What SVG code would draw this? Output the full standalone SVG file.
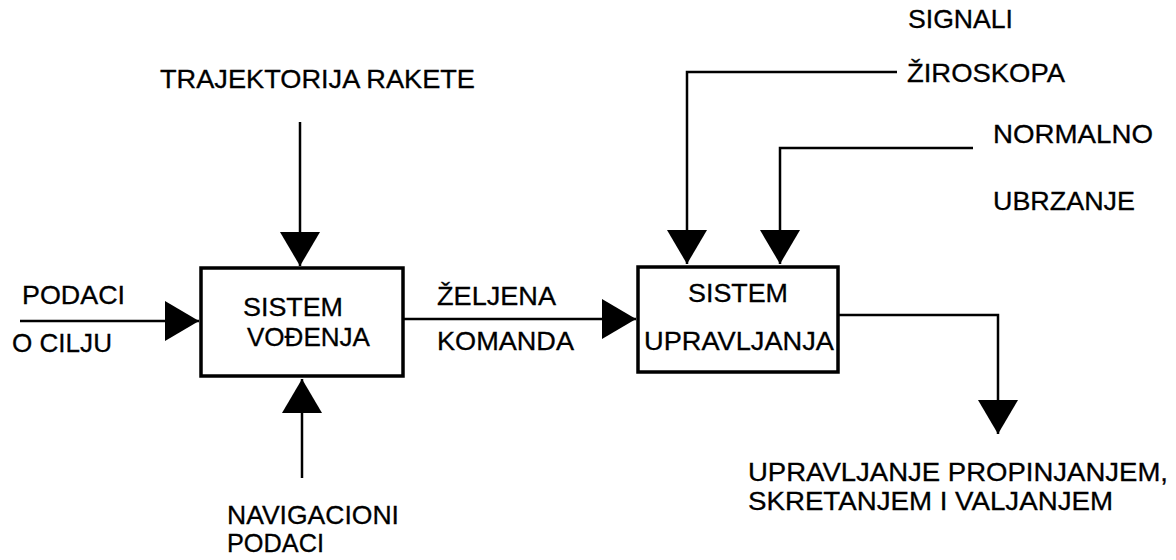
<svg xmlns="http://www.w3.org/2000/svg" width="1176" height="560" viewBox="0 0 1176 560">
<style>
  .bg { fill: #ffffff; }
  .box { fill: #ffffff; stroke: #000000; stroke-width: 3.5; }
  .conn { fill: none; stroke: #000000; stroke-width: 2.5; }
  .t { font-family: "Liberation Sans", Arial, sans-serif; font-size: 26px; fill: #000000; stroke: #000000; stroke-width: 0.3; }
</style>
<defs>
  <marker id="ah" markerUnits="userSpaceOnUse" markerWidth="34" markerHeight="40" refX="34" refY="20" orient="auto">
    <path d="M0,0 L34,20 L0,40 z" fill="#000000"/>
  </marker>
</defs>
<rect class="bg" x="0" y="0" width="1176" height="560"/>

<g id="connectors">
  <path class="conn" d="M20,321 H199" marker-end="url(#ah)"/>
  <path class="conn" d="M404,319 H636" marker-end="url(#ah)"/>
  <path class="conn" d="M300,122 V266" marker-end="url(#ah)"/>
  <path class="conn" d="M302,478 V379" marker-end="url(#ah)"/>
  <path class="conn" d="M897,72 H687 V264" marker-end="url(#ah)"/>
  <path class="conn" d="M973,148 H780 V264" marker-end="url(#ah)"/>
  <path class="conn" d="M838,315 H998 V434" marker-end="url(#ah)"/>
</g>

<g id="sistem-vodjenja">
  <rect class="box" x="201" y="268" width="202" height="108"/>
  <text class="t" x="243" y="316" textLength="100" lengthAdjust="spacingAndGlyphs">SISTEM</text>
  <text class="t" x="247" y="346" textLength="123" lengthAdjust="spacingAndGlyphs">VOĐENJA</text>
</g>

<g id="sistem-upravljanja">
  <rect class="box" x="638" y="267" width="200" height="105"/>
  <text class="t" x="688" y="302" textLength="100" lengthAdjust="spacingAndGlyphs">SISTEM</text>
  <text class="t" x="644" y="350" textLength="190" lengthAdjust="spacingAndGlyphs">UPRAVLJANJA</text>
</g>

<g id="trajektorija">
  <text class="t" x="160" y="88" textLength="315" lengthAdjust="spacingAndGlyphs">TRAJEKTORIJA RAKETE</text>
</g>

<g id="podaci-o-cilju">
  <text class="t" x="22" y="304" textLength="103" lengthAdjust="spacingAndGlyphs">PODACI</text>
  <text class="t" x="12" y="352" textLength="100" lengthAdjust="spacingAndGlyphs">O CILJU</text>
</g>

<g id="zeljena-komanda">
  <text class="t" x="437" y="305" textLength="119" lengthAdjust="spacingAndGlyphs">ŽELJENA</text>
  <text class="t" x="437" y="350" textLength="137" lengthAdjust="spacingAndGlyphs">KOMANDA</text>
</g>

<g id="navigacioni-podaci">
  <text class="t" x="227" y="524" textLength="172" lengthAdjust="spacingAndGlyphs">NAVIGACIONI</text>
  <text class="t" x="227" y="552" textLength="97" lengthAdjust="spacingAndGlyphs">PODACI</text>
</g>

<g id="signali-ziroskopa">
  <text class="t" x="908" y="28" textLength="105" lengthAdjust="spacingAndGlyphs">SIGNALI</text>
  <text class="t" x="907" y="82" textLength="158" lengthAdjust="spacingAndGlyphs">ŽIROSKOPA</text>
</g>

<g id="normalno-ubrzanje">
  <text class="t" x="993" y="143" textLength="160" lengthAdjust="spacingAndGlyphs">NORMALNO</text>
  <text class="t" x="993" y="210" textLength="142" lengthAdjust="spacingAndGlyphs">UBRZANJE</text>
</g>

<g id="izlaz">
  <text class="t" x="748" y="481" textLength="420" lengthAdjust="spacingAndGlyphs">UPRAVLJANJE PROPINJANJEM,</text>
  <text class="t" x="748" y="510" textLength="365" lengthAdjust="spacingAndGlyphs">SKRETANJEM I VALJANJEM</text>
</g>
</svg>
